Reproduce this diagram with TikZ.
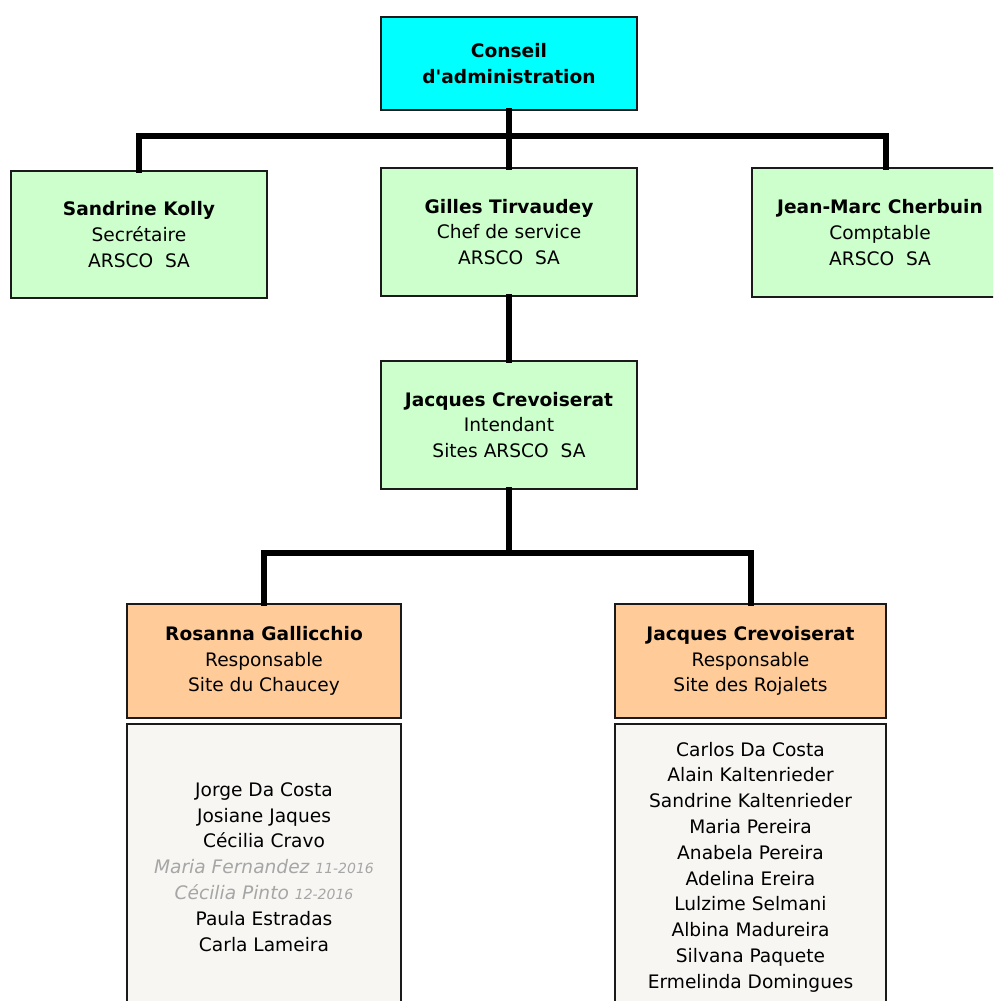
\documentclass[tikz,border=0pt]{standalone}
\usepackage{fontspec}
\setmainfont{DejaVu Sans}
\newfontfamily\chartfont{DejaVu Sans}
\usetikzlibrary{positioning}
\definecolor{boardcyan}{HTML}{00FFFF}
\definecolor{staffgreen}{HTML}{CCFFCC}
\definecolor{siteorange}{HTML}{FFCC99}
\definecolor{teamgray}{HTML}{F7F6F3}
\definecolor{leftgray}{HTML}{A6A6A6}
\definecolor{edgeblack}{HTML}{1A1A1A}
\newcommand{\leftdate}[1]{{\fontsize{14}{14}\selectfont\itshape #1}}
\tikzset{
  box/.style={draw=edgeblack,line width=1.8pt,inner sep=0pt,align=center,
    font=\chartfont\fontsize{18.6}{25.8}\selectfont},
  link/.style={line width=6pt,line cap=rect}
}
\begin{document}
\begin{tikzpicture}[x=1pt,y=-1pt]
  \useasboundingbox (0,0) rectangle (993,1001);
  \clip (0,0) rectangle (993,1001);
  \fill[white] (0,0) rectangle (993,1001);
  \node[box,fill=boardcyan,minimum width=256pt,minimum height=93pt] (ca) at (509,63.5) {\textbf{Conseil}\\\textbf{d'administration}};
  \node[box,fill=staffgreen,minimum width=256pt,minimum height=127pt] (sk) at (139,234.5) {\textbf{Sandrine Kolly}\\Secrétaire\\ARSCO~~SA};
  \node[box,fill=staffgreen,minimum width=256pt,minimum height=128pt] (gt) at (509,232) {\textbf{Gilles Tirvaudey}\\Chef de service\\ARSCO~~SA};
  \node[box,fill=staffgreen,minimum width=256pt,minimum height=129pt] (jmc) at (880,232.5) {\textbf{Jean-Marc Cherbuin}\\Comptable\\ARSCO~~SA};
  \node[box,fill=staffgreen,minimum width=256pt,minimum height=128pt] (jc) at (509,425) {\textbf{Jacques Crevoiserat}\\Intendant\\Sites ARSCO~~SA};
  \node[box,fill=siteorange,minimum width=274pt,minimum height=114pt] (rg) at (264,661) {\textbf{Rosanna Gallicchio}\\Responsable\\Site du Chaucey};
  \node[box,fill=siteorange,minimum width=271pt,minimum height=114pt] (jcr) at (750.5,661) {\textbf{Jacques Crevoiserat}\\Responsable\\Site des Rojalets};
  \node[box,fill=teamgray,minimum width=274pt,minimum height=286pt] (chaucey) at (264,867) {Jorge Da Costa\\Josiane Jaques\\Cécilia Cravo\\
    \textcolor{leftgray}{\itshape Maria Fernandez \leftdate{11-2016}}\\
    \textcolor{leftgray}{\itshape Cécilia Pinto \leftdate{12-2016}}\\
    Paula Estradas\\Carla Lameira};
  \node[box,fill=teamgray,minimum width=271pt,minimum height=286pt] (rojalets) at (750.5,867) {Carlos Da Costa\\Alain Kaltenrieder\\Sandrine Kaltenrieder\\Maria Pereira\\Anabela Pereira\\Adelina Ereira\\Lulzime Selmani\\Albina Madureira\\Silvana Paquete\\Ermelinda Domingues};
  \coordinate (bartop) at (509,136);
  \coordinate (barsite) at (509,553);
  \draw[link] (ca.south) -- (gt.north);
  \draw[link] (sk.north) |- (bartop) -| ([xshift=6pt]jmc.north);
  \draw[link] (gt.south) -- (jc.north);
  \draw[link] (jc.south) -- (barsite);
  \draw[link] (rg.north) |- (barsite) -| (jcr.north);
\end{tikzpicture}
\end{document}
